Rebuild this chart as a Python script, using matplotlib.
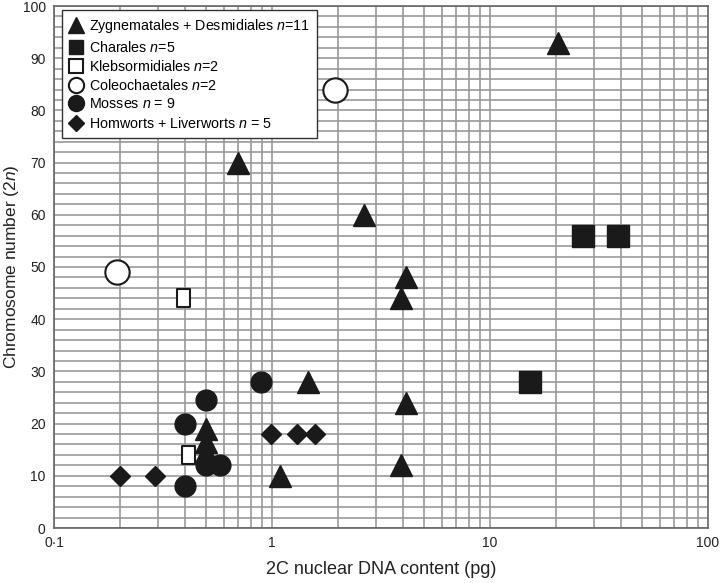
import matplotlib
matplotlib.use('Agg')
import matplotlib.pyplot as plt
import numpy as np
from matplotlib.lines import Line2D
from matplotlib.path import Path

plt.rcParams['font.family'] = ['Liberation Sans', 'DejaVu Sans']
plt.rcParams['mathtext.fontset'] = 'custom'
plt.rcParams['mathtext.rm'] = 'Liberation Sans'
plt.rcParams['mathtext.it'] = 'Liberation Sans:italic'

# data (2C DNA in pg, chromosome number 2n)
zyg_x = [0.7, 2.65, 20.5, 4.1, 3.9, 4.1, 3.9, 1.47, 1.09, 0.5, 0.5, 0.5]
zyg_y = [70, 60, 93, 48, 44, 24, 12, 28, 10, 19, 16.5, 14.5]
char_x = [26.7, 38.5, 15.3]
char_y = [56, 56, 28]
kleb_x = [0.39, 0.41]
kleb_y = [44, 14]
coleo_x = [0.195, 1.95]
coleo_y = [49, 84]
moss_x = [0.4, 0.4, 0.5, 0.89, 0.5, 0.58]
moss_y = [8, 20, 24.5, 28, 12, 12]
horn_x = [0.2, 0.29, 0.99, 1.3, 1.57]
horn_y = [10, 10, 18, 18, 18]

labels = [r'Zygnematales + Desmidiales $\it{n}$=11',
          r'Charales $\it{n}$=5',
          r'Klebsormidiales $\it{n}$=2',
          r'Coleochaetales $\it{n}$=2',
          r'Mosses $\it{n}$ = 9',
          r'Homworts + Liverworts $\it{n}$ = 5']

x_ticks = [0.1, 1, 10, 100]
x_ticklabels = ['0\u00b71', '1', '10', '100']
y_ticks = list(range(0, 101, 10))

INK = '#1a1a1a'
GRID = '#9a9a9a'
tall_rect = Path([(-0.72, -1), (0.72, -1), (0.72, 1), (-0.72, 1), (-0.72, -1)], closed=True)

fig = plt.figure(figsize=(7.2, 5.83), dpi=100)
ax = fig.add_axes([54 / 720, 1 - 528 / 583, 654 / 720, 522 / 583])
ax.set_xscale('log')
ax.set_xlim(0.1, 100)
ax.set_ylim(0, 100)

# grid: every 2 on y, every log minor on x
for yv in np.arange(0, 101, 2):
    ax.axhline(yv, color=GRID, lw=1.2, zorder=0)
for dec in [0.1, 1, 10]:
    for m in range(1, 10):
        ax.axvline(dec * m, color=GRID, lw=1.2, zorder=0)

ax.plot(coleo_x, coleo_y, 'o', ms=17.5, mfc='white', mec=INK, mew=1.5, ls='none', zorder=3)
ax.plot(kleb_x, kleb_y, marker=tall_rect, ms=13, mfc='white', mec=INK, mew=1.5, ls='none', zorder=3)
ax.plot(horn_x, horn_y, 'D', ms=10.5, color=INK, ls='none', zorder=3)
ax.plot(zyg_x, zyg_y, '^', ms=15.5, color=INK, ls='none', zorder=4)
ax.plot(moss_x, moss_y, 'o', ms=15, color=INK, ls='none', zorder=5)
ax.plot(char_x, char_y, 's', ms=16.5, color=INK, ls='none', zorder=3)

ax.set_xticks(x_ticks)
ax.set_xticklabels(x_ticklabels)
ax.set_xticks([], minor=True)
ax.set_yticks(y_ticks)
ax.tick_params(length=0, labelsize=10, pad=6, colors='#222222')
for s in ax.spines.values():
    s.set_color('#666666')
    s.set_linewidth(1.2)

ax.set_xlabel('2C nuclear DNA content (pg)', fontsize=13, labelpad=8, color='#222222')
ax.set_ylabel(r'Chromosome number (2$\it{n}$)', fontsize=12.5, color='#222222')
ax.yaxis.set_label_coords(-0.05, 0.5)

handles = [
    Line2D([], [], marker='^', ms=11, color=INK, ls='none'),
    Line2D([], [], marker='s', ms=10, color=INK, ls='none'),
    Line2D([], [], marker='s', ms=10, mfc='white', mec=INK, mew=1.5, ls='none'),
    Line2D([], [], marker='o', ms=11, mfc='white', mec=INK, mew=1.5, ls='none'),
    Line2D([], [], marker='o', ms=11.5, color=INK, ls='none'),
    Line2D([], [], marker='D', ms=8.5, color=INK, ls='none'),
]
leg = ax.legend(handles, labels, loc='upper left', bbox_to_anchor=(0.012, 0.992),
                borderaxespad=0, fancybox=False, framealpha=1, edgecolor='#333333',
                fontsize=10.3, handlelength=1.0, handletextpad=0.4, labelspacing=0.3,
                borderpad=0.5)
leg.get_frame().set_linewidth(1.0)
leg.set_zorder(10)

fig.savefig('out.png', dpi=100)
